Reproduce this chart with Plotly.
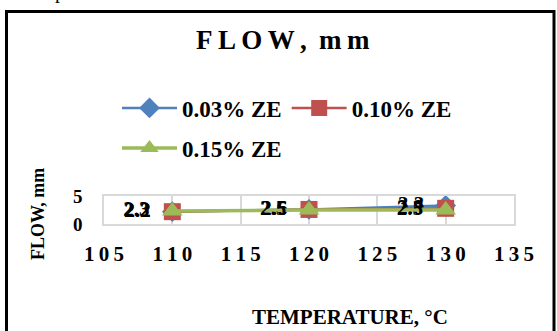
import plotly.graph_objects as go

# Flow (mm) of mixes at three test temperatures, per ZE dosage
temperature = [110, 120, 130]
series_names = ["0.03% ZE", "0.10% ZE", "0.15% ZE"]
flow_003 = [2.2, 2.6, 3.3]
flow_010 = [2.2, 2.6, 2.8]
flow_015 = [2.3, 2.5, 2.5]
x_ticks = [105, 110, 115, 120, 125, 130, 135]
y_ticks = [0, 5]

colors = ["#4F81BD", "#C0504D", "#9BBB59"]
symbols = ["diamond", "square", "triangle-up"]
sizes = [16, 17, 18]
widths = [2.5, 2.5, 3.5]
legends = ["legend", "legend", "legend2"]

SERIF = "Liberation Serif, Times New Roman, serif"
THIN = "\u2009"
EN = "\u2002"

fig = go.Figure()
for name, ys, c, s, sz, w, lg in zip(series_names, [flow_003, flow_010, flow_015],
                                      colors, symbols, sizes, widths, legends):
    fig.add_trace(go.Scatter(
        x=temperature, y=ys, name=name, legend=lg,
        mode="lines+markers+text",
        line=dict(color=c, width=w),
        marker=dict(symbol=s, size=sz, color=c),
        text=[f"{v:.1f}{EN}" for v in ys],
        textposition="middle left",
        textfont=dict(family=SERIF, size=21, color="black", weight="bold"),
        cliponaxis=False,
    ))

spaced = lambda s: THIN.join(s)
legend_font = dict(family=SERIF, size=23, color="black", weight="bold")

fig.update_layout(
    width=557, height=331,
    margin=dict(l=104, r=43, t=196, b=107),
    paper_bgcolor="white", plot_bgcolor="white",
    showlegend=True,
    legend=dict(orientation="h", xref="container", yref="container",
                x=117 / 557, y=1 - 108 / 331, xanchor="left", yanchor="middle",
                font=legend_font, itemwidth=55, bgcolor="rgba(0,0,0,0)"),
    legend2=dict(orientation="h", xref="container", yref="container",
                 x=117 / 557, y=1 - 148 / 331, xanchor="left", yanchor="middle",
                 font=legend_font, itemwidth=55, bgcolor="rgba(0,0,0,0)"),
    xaxis=dict(range=[105, 135], tickvals=x_ticks,
               ticktext=[spaced(str(t)) for t in x_ticks],
               showgrid=True, gridcolor="#D9D9D9", gridwidth=1.5,
               showline=True, mirror=True, linecolor="#D9D9D9", linewidth=1.5,
               zeroline=False, ticks="", ticklabelstandoff=10,
               tickfont=dict(family=SERIF, size=21, color="black", weight="bold")),
    yaxis=dict(range=[0, 5], tickvals=y_ticks,
               showgrid=True, gridcolor="#D9D9D9", gridwidth=1.5,
               showline=True, mirror=True, linecolor="#D9D9D9", linewidth=1.5,
               zeroline=False, ticks="", ticklabelstandoff=16,
               tickfont=dict(family=SERIF, size=19, color="black", weight="bold")),
    annotations=[
        dict(text=spaced("FLOW,") + THIN + " " + spaced("mm"), xref="paper", yref="paper",
             x=0.5, y=1, xanchor="center", yanchor="middle",
             xshift=283 - 309, yshift=196 - 40, showarrow=False,
             font=dict(family=SERIF, size=27, color="black", weight="bold")),
        dict(text="FLOW, mm", xref="paper", yref="paper", textangle=-90,
             x=0, y=0.5, xanchor="center", yanchor="middle",
             xshift=38 - 104, yshift=-4, showarrow=False,
             font=dict(family=SERIF, size=18, color="black", weight="bold")),
        dict(text="TEMPERATURE, °C", xref="paper", yref="paper",
             x=0.5, y=0, xanchor="center", yanchor="middle",
             xshift=350 - 309, yshift=-(317 - 224), showarrow=False,
             font=dict(family=SERIF, size=21, color="black", weight="bold")),
        dict(text="p", xref="paper", yref="paper",
             x=0, y=1, xanchor="center", yanchor="bottom",
             xshift=60 - 104, yshift=191, showarrow=False,
             font=dict(family=SERIF, size=20, color="black")),
    ],
    shapes=[
        dict(type="rect", xref="paper", yref="paper",
             xsizemode="pixel", ysizemode="pixel", xanchor=0, yanchor=1,
             x0=6.5 - 104, x1=554 - 104, y0=196 - 11.5, y1=196 - 345,
             line=dict(color="black", width=3), fillcolor="rgba(0,0,0,0)",
             layer="below"),
    ],
)

fig.write_html("out.html")
